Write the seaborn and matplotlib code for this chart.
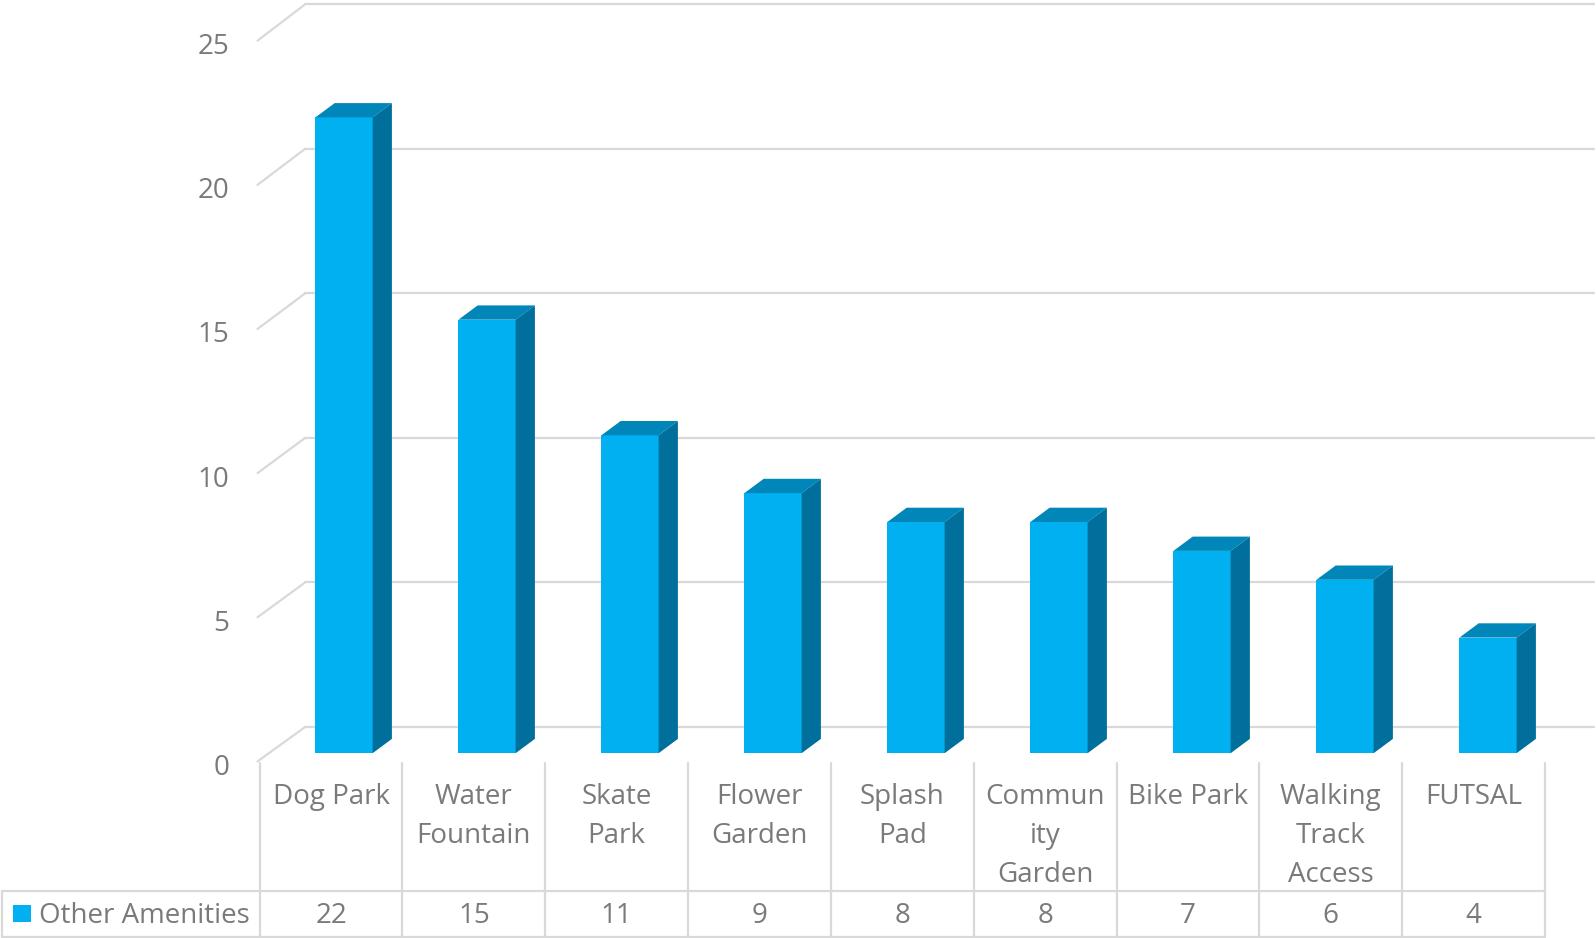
import matplotlib
matplotlib.use("Agg")
import matplotlib.pyplot as plt
import seaborn as sns
from matplotlib.lines import Line2D
from matplotlib.patches import Polygon, Rectangle
from matplotlib.transforms import ScaledTranslation

# data
categories = ["Dog Park", "Water\nFountain", "Skate\nPark", "Flower\nGarden", "Splash\nPad",
              "Commun\nity\nGarden", "Bike Park", "Walking\nTrack\nAccess", "FUTSAL"]
values = [22, 15, 11, 9, 8, 8, 7, 6, 4]
series_name = "Other Amenities"
y_ticks = [0, 5, 10, 15, 20, 25]

W, H = 1596, 938
sns.set_theme(style="white")
plt.rcParams['font.family'] = ['Open Sans', 'DejaVu Sans']

txt = '#7a7a7a'
grid_col = '#d9d9d9'
front_col = '#00B0F0'
top_col = '#0086B8'
side_col = '#006F9C'
fs = 20

fig = plt.figure(figsize=(W / 100, H / 100), dpi=100)


def box(x0, y_top, x1, y_bot):
    # pixel box -> figure fraction rect
    return [x0 / W, 1 - y_bot / H, (x1 - x0) / W, (y_bot - y_top) / H]


def hide(a):
    a.patch.set_visible(False)
    for sp in a.spines.values():
        sp.set_visible(False)


# back wall with gridlines
ax_back = fig.add_axes(box(305.4, 4.1, 1594, 726.8))
ax_back.set_ylim(0, 25)
ax_back.set_xticks([])
ax_back.set_yticks([])
hide(ax_back)
for v in y_ticks:
    ax_back.axhline(v, color=grid_col, lw=1.6, clip_on=False)

# front plane, holds the y tick labels
ax_front = fig.add_axes(box(257.5, 40.7, 270, 761.4))
ax_front.set_ylim(0, 25)
ax_front.set_xlim(0, 1)
ax_front.set_yticks(y_ticks)
ax_front.set_xticks([])
ax_front.tick_params(axis='y', length=0, pad=20.5, labelsize=fs, labelcolor=txt)
hide(ax_front)
shift = ScaledTranslation(0, -3 / 100, fig.dpi_scale_trans)
for lbl in ax_front.get_yticklabels():
    lbl.set_transform(lbl.get_transform() + shift)

# floor / side diagonals joining front and back
inv = fig.transFigure.inverted()
for v in y_ticks:
    pf = inv.transform(ax_front.transData.transform((0, v)))
    pb = inv.transform(ax_back.transData.transform((ax_back.get_xlim()[0], v)))
    fig.add_artist(Line2D([pf[0], pb[0]], [pf[1], pb[1]], color=grid_col, lw=1.6))

# bars (front faces)
ax = fig.add_axes(box(272.5, 30.7, 1559.5, 753.2))
sns.barplot(x=categories, y=values, color=front_col, saturation=1, width=0.4,
            linewidth=0, ax=ax)
ax.set_xlim(-0.5, 8.5)
ax.set_ylim(0, 25)
ax.axis('off')

# depth of the bars in data units
ddx = 19.3 / (ax.bbox.width / 9)
ddy = 14.3 / (ax.bbox.height / 25)
for p in ax.patches:
    x, w, h = p.get_x(), p.get_width(), p.get_height()
    ax.add_patch(Polygon([(x, h), (x + w, h), (x + w + ddx, h + ddy), (x + ddx, h + ddy)],
                         closed=True, fc=top_col, ec='none', clip_on=False))
    ax.add_patch(Polygon([(x + w, 0), (x + w + ddx, ddy), (x + w + ddx, h + ddy), (x + w, h)],
                         closed=True, fc=side_col, ec='none', clip_on=False))

# data table
ax_tab = fig.add_axes(box(259.6, 763.4, 1545.1, 936.5))
tab_h = 936.5 - 763.4
row_h = 936.5 - 890.7
col_w = (1545.1 - 259.6) / 9
ax_tab.set_xlim(-0.5, 8.5)
ax_tab.set_ylim(0, tab_h)
ax_tab.axis('off')
x_left = -0.5 - (259.6 - 2) / col_w

for i in range(len(categories) + 1):
    ax_tab.plot([i - 0.5, i - 0.5], [0, tab_h], color=grid_col, lw=1.6, clip_on=False)
for yy in [0, row_h]:
    ax_tab.plot([x_left, 8.5], [yy, yy], color=grid_col, lw=1.6, clip_on=False)
ax_tab.plot([x_left, x_left], [0, row_h], color=grid_col, lw=1.6, clip_on=False)

first_line = tab_h - (797 - 763.4)
line_gap = 39.2
for i, (cat, val) in enumerate(zip(categories, values)):
    for k, part in enumerate(cat.split("\n")):
        ax_tab.text(i, first_line - k * line_gap, part, ha='center', va='center',
                    fontsize=fs, color=txt)
    ax_tab.text(i, row_h / 2 - 2.5, str(val), ha='center', va='center', fontsize=fs, color=txt)

# legend key in the table
fig.add_artist(Rectangle((13.2 / W, 1 - 922 / H), 17.3 / W, 17.3 / H,
                         transform=fig.transFigure, fc=front_col, ec='none'))
fig.text(38.7 / W, 1 - 916 / H, series_name, ha='left', va='center', fontsize=fs, color=txt)

fig.savefig('out.png', dpi=100, facecolor='white')
